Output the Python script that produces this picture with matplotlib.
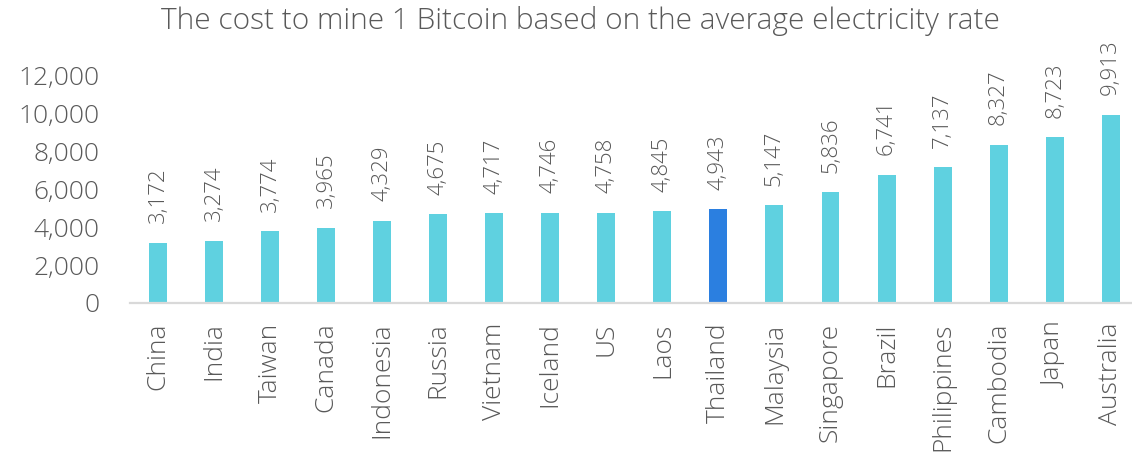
import matplotlib
matplotlib.use("Agg")
import matplotlib.pyplot as plt

countries = ["China", "India", "Taiwan", "Canada", "Indonesia", "Russia", "Vietnam",
             "Iceland", "US", "Laos", "Thailand", "Malaysia", "Singapore", "Brazil",
             "Philippines", "Cambodia", "Japan", "Australia"]
costs = [3172, 3274, 3774, 3965, 4329, 4675, 4717, 4746, 4758, 4845, 4943, 5147,
         5836, 6741, 7137, 8327, 8723, 9913]
highlight = "Thailand"
yticks = [0, 2000, 4000, 6000, 8000, 10000, 12000]

TEXT = "#595959"
W = 300
plt.rcParams["font.family"] = ["Open Sans", "DejaVu Sans"]

fig = plt.figure(figsize=(11.32, 4.59), dpi=100)
ax = fig.add_axes([130 / 1132, 1 - 303 / 459, 1 - 130 / 1132, 228 / 459])

colors = ["#2B7FE0" if c == highlight else "#5FD1E0" for c in countries]
x = range(len(countries))
ax.bar(x, costs, width=0.32, color=colors, zorder=2)

for xi, v in zip(x, costs):
    ax.annotate(f"{v:,}", (xi, v), xytext=(0, 14), textcoords="offset points",
                rotation=90, ha="center", va="bottom", fontsize=16,
                fontweight=W, color=TEXT)

ax.set_ylim(0, 12000)
ax.set_xlim(-0.5, len(countries) - 0.62)
ax.set_yticks(yticks)
ax.set_yticklabels([f"{t:,}" for t in yticks], fontsize=19, fontweight=W, color=TEXT)
ax.set_xticks(list(x))
ax.set_xticklabels(countries, rotation=90, fontsize=19, fontweight=W, color=TEXT)
ax.tick_params(axis="both", length=0)
ax.tick_params(axis="x", pad=14)
ax.tick_params(axis="y", pad=22)

for s in ["top", "right", "left"]:
    ax.spines[s].set_visible(False)
ax.spines["bottom"].set_color("#D9D9D9")
ax.spines["bottom"].set_linewidth(1.6)

fig.text(0.513, 1 - 21 / 459, "The cost to mine 1 Bitcoin based on the average electricity rate",
         ha="center", va="center", fontsize=21.5, fontweight=W, color=TEXT)

fig.savefig("out.png", dpi=100)
